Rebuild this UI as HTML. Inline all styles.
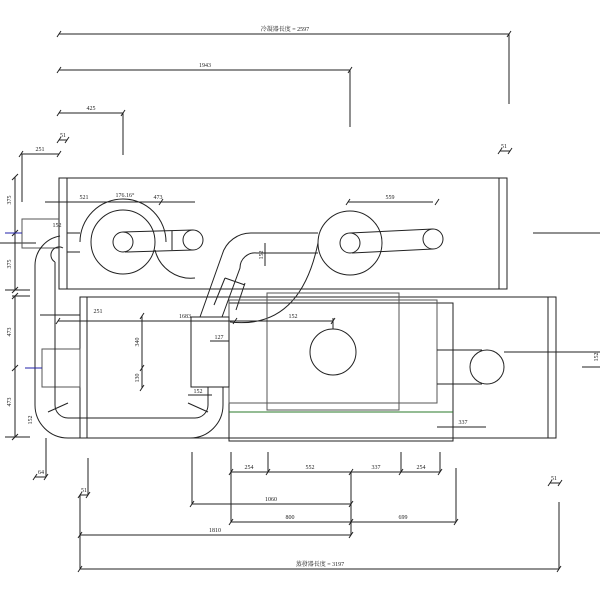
<!DOCTYPE html>
<html><head><meta charset="utf-8"><style>
html,body{margin:0;padding:0;background:#fff;width:600px;height:600px;overflow:hidden}
svg{display:block}
text{font-family:"Liberation Serif","Noto Serif CJK SC",serif;font-size:6px;fill:#222}
</style></head><body>
<svg width="600" height="600" viewBox="0 0 600 600" xmlns="http://www.w3.org/2000/svg">
<g stroke="#222" stroke-width="1" fill="none">
<!-- top dims -->
<line x1="59" y1="34" x2="509" y2="34"/><line x1="509" y1="34" x2="509" y2="104"/>
<line x1="59" y1="70" x2="350" y2="70"/><line x1="350" y1="70" x2="350" y2="127"/>
<line x1="59" y1="113" x2="123" y2="113"/><line x1="123" y1="113" x2="123" y2="155"/>
<line x1="59" y1="140" x2="67" y2="140"/>
<line x1="21" y1="154" x2="59" y2="154"/><line x1="22" y1="154" x2="22" y2="202"/>
<line x1="500" y1="151" x2="510" y2="151"/>
<!-- ticks -->
<path d="M57 37l4-6M507 37l4-6M57 73l4-6M348 73l4-6M57 116l4-6M121 116l4-6M57 143l4-6M65 143l4-6M19 157l4-6M57 157l4-6M498 154l4-6M508 154l4-6"/>
<!-- left vertical dims -->
<line x1="15" y1="177" x2="15" y2="290"/><line x1="15" y1="296" x2="15" y2="437"/>
<line x1="5" y1="290" x2="30" y2="290"/><line x1="12" y1="296" x2="30" y2="296"/>
<line x1="5" y1="437" x2="30" y2="437"/>
<path d="M12 180l6-6M12 236l6-6M12 293l6-6M12 299l6-6M12 371l6-6M12 440l6-6"/>
<line x1="0" y1="243" x2="36" y2="243"/>
<!-- condenser -->
<rect x="59" y="178" width="448" height="111"/>
<line x1="67" y1="178" x2="67" y2="289"/><line x1="499" y1="178" x2="499" y2="289"/>
<polyline points="59,219 22,219 22,248 59,248" stroke="#555"/>
<!-- left fan -->
<circle cx="123" cy="242" r="32"/><circle cx="123" cy="242" r="10"/><circle cx="193" cy="240" r="10"/>
<line x1="123" y1="232" x2="193" y2="230"/><line x1="125" y1="252" x2="193" y2="250"/>
<line x1="172" y1="231" x2="172" y2="250"/>
<path d="M80 242 A43 43 0 0 1 166 242"/>
<path d="M155 250 A37 37 0 0 0 195 278"/>
<line x1="45" y1="202" x2="195" y2="202"/>
<line x1="67" y1="233" x2="80" y2="233"/><line x1="67" y1="252" x2="80" y2="252"/>
<!-- right fan -->
<circle cx="350" cy="243" r="32"/><circle cx="350" cy="243" r="10"/><circle cx="433" cy="239" r="10"/>
<line x1="350" y1="233" x2="433" y2="229"/><line x1="352" y1="253" x2="433" y2="249"/>
<line x1="348" y1="202" x2="433" y2="202"/>
<!-- middle S pipe -->
<path d="M318 233 L252 233 A30 30 0 0 0 222 255 L200 317"/>
<path d="M318 253 L257 253 A15 15 0 0 0 240 268 L222 317"/>
<line x1="225" y1="278" x2="214" y2="305"/><line x1="245" y1="283" x2="236" y2="310"/>
<line x1="225" y1="278" x2="245" y2="285"/>
<path d="M318 243 Q300 330 230 322"/>
<line x1="265" y1="243" x2="265" y2="266"/>
<!-- evaporator -->
<rect x="80" y="297" width="476" height="141"/>
<line x1="87" y1="297" x2="87" y2="438"/><line x1="548" y1="297" x2="548" y2="438"/>
<rect x="229" y="303" width="224" height="138"/>
<rect x="267" y="293" width="132" height="117" stroke="#555"/>
<rect x="229" y="300" width="208" height="103" stroke="#555"/>
<line x1="229" y1="412" x2="453" y2="412" stroke="#2a7a2a"/>
<rect x="191" y="317" width="38" height="70"/>
<circle cx="333" cy="352" r="23"/><line x1="333" y1="329" x2="333" y2="318"/>
<circle cx="487" cy="367" r="17"/>
<line x1="437" y1="350" x2="482" y2="350"/><line x1="437" y1="384" x2="482" y2="384"/>
<line x1="504" y1="352" x2="600" y2="352"/>
<line x1="533" y1="233" x2="600" y2="233"/>
<line x1="582" y1="367" x2="600" y2="367"/>
<rect x="42" y="349" width="38" height="38" stroke="#555"/>
<line x1="58" y1="321" x2="333" y2="321"/>
<line x1="40" y1="315" x2="80" y2="315"/>
<line x1="142" y1="316" x2="142" y2="388"/>
<line x1="210" y1="341" x2="229" y2="341"/>
<line x1="437" y1="427" x2="486" y2="427"/>
<!-- left pipe -->
<path d="M35 266 A30 30 0 0 1 60 236"/>
<path d="M55 262 A8 8 0 0 1 63 248"/>
<line x1="35" y1="266" x2="35" y2="405"/><line x1="55" y1="262" x2="55" y2="405"/>
<path d="M35 405 A33 33 0 0 0 68 438 L190 438 A33 33 0 0 0 223 405 L223 387"/>
<path d="M55 405 A13 13 0 0 0 68 418 L195 418 A13 13 0 0 0 208 405 L208 387"/>
<line x1="48" y1="412" x2="68" y2="403"/><line x1="188" y1="403" x2="208" y2="412"/>
<line x1="188" y1="395" x2="212" y2="395"/>
<!-- bottom dims -->
<line x1="46" y1="438" x2="46" y2="477"/><line x1="35" y1="477" x2="46" y2="477"/>
<line x1="88" y1="458" x2="88" y2="495"/><line x1="80" y1="495" x2="88" y2="495"/>
<line x1="80" y1="495" x2="80" y2="569"/>
<line x1="192" y1="452" x2="192" y2="504"/>
<line x1="231" y1="452" x2="231" y2="522"/>
<line x1="268" y1="452" x2="268" y2="472"/>
<line x1="401" y1="452" x2="401" y2="472"/>
<line x1="440" y1="452" x2="440" y2="472"/>
<line x1="456" y1="468" x2="456" y2="522"/>
<line x1="351" y1="472" x2="351" y2="535"/>
<line x1="231" y1="472" x2="440" y2="472"/>
<line x1="192" y1="504" x2="351" y2="504"/>
<line x1="231" y1="522" x2="456" y2="522"/>
<line x1="80" y1="535" x2="351" y2="535"/>
<line x1="80" y1="569" x2="559" y2="569"/>
<line x1="559" y1="502" x2="559" y2="569"/>
<line x1="550" y1="483" x2="560" y2="483"/>
<path d="M229 475l4-6M266 475l4-6M349 475l4-6M399 475l4-6M438 475l4-6M190 507l4-6M349 507l4-6M229 525l4-6M349 525l4-6M454 525l4-6M78 538l4-6M349 538l4-6M78 572l4-6M557 572l4-6M33 480l4-6M44 480l4-6M78 498l4-6M86 498l4-6M548 486l4-6M558 486l4-6"/>
<path d="M140 319l4-6M140 371l4-6M140 391l4-6M56 324l4-6M233 324l4-6M331 324l4-6M159 205l4-6M435 205l4-6M346 205l4-6"/>
</g>
<line x1="5" y1="233" x2="22" y2="233" stroke="#22a" stroke-width="1"/>
<line x1="25" y1="368" x2="42" y2="368" stroke="#22a" stroke-width="1"/>
<text x="285" y="31" text-anchor="middle">冷凝器長度 = 2597</text>
<text x="205" y="67" text-anchor="middle">1943</text>
<text x="91" y="110" text-anchor="middle">425</text>
<text x="63" y="137" text-anchor="middle">51</text>
<text x="40" y="151" text-anchor="middle">251</text>
<text x="504" y="148" text-anchor="middle">51</text>
<text x="84" y="199" text-anchor="middle">521</text>
<text x="125" y="197" text-anchor="middle">176.16°</text>
<text x="158" y="199" text-anchor="middle">473</text>
<text x="390" y="199" text-anchor="middle">559</text>
<text x="57" y="227" text-anchor="middle">152</text>
<text x="98" y="313" text-anchor="middle">251</text>
<text x="185" y="318" text-anchor="middle">1683</text>
<text x="293" y="318" text-anchor="middle">152</text>
<text x="219" y="339" text-anchor="middle">127</text>
<text x="198" y="393" text-anchor="middle">152</text>
<text x="463" y="424" text-anchor="middle">337</text>
<text x="249" y="469" text-anchor="middle">254</text>
<text x="310" y="469" text-anchor="middle">552</text>
<text x="376" y="469" text-anchor="middle">337</text>
<text x="421" y="469" text-anchor="middle">254</text>
<text x="271" y="501" text-anchor="middle">1060</text>
<text x="290" y="519" text-anchor="middle">800</text>
<text x="403" y="519" text-anchor="middle">699</text>
<text x="215" y="532" text-anchor="middle">1810</text>
<text x="320" y="566" text-anchor="middle">蒸發器長度 = 3197</text>
<text x="41" y="474" text-anchor="middle">64</text>
<text x="84" y="492" text-anchor="middle">51</text>
<text x="554" y="480" text-anchor="middle">51</text>
<text transform="translate(11,200) rotate(-90)" text-anchor="middle">375</text>
<text transform="translate(11,264) rotate(-90)" text-anchor="middle">375</text>
<text transform="translate(11,332) rotate(-90)" text-anchor="middle">473</text>
<text transform="translate(11,402) rotate(-90)" text-anchor="middle">473</text>
<text transform="translate(139,342) rotate(-90)" text-anchor="middle">340</text>
<text transform="translate(139,378) rotate(-90)" text-anchor="middle">130</text>
<text transform="translate(263,255) rotate(-90)" text-anchor="middle">152</text>
<text transform="translate(32,420) rotate(-90)" text-anchor="middle">152</text>
<text transform="translate(598,357) rotate(-90)" text-anchor="middle">152</text>
</svg>
</body></html>
